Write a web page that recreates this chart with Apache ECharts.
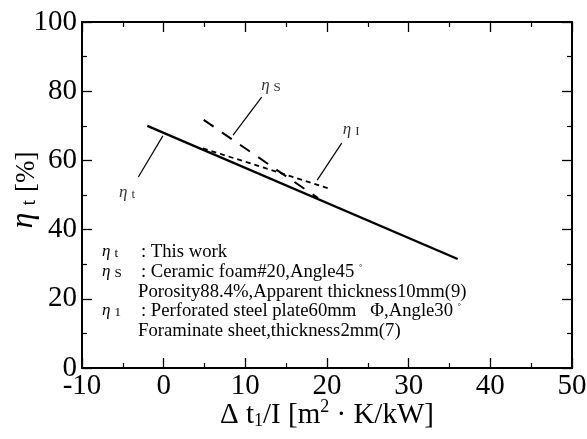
<!DOCTYPE html>
<html>
<head>
<meta charset="utf-8">
<script src="https://cdn.jsdelivr.net/npm/echarts@6/dist/echarts.min.js"></script>
<style>
  html, body { margin: 0; padding: 0; background: #fff; }
  #chart { width: 587px; height: 439px; }
</style>
</head>
<body>
<div id="chart"></div>
<script>
// line end points  [x, y]
const etaT = [[-2, 70], [36, 31.5]];
const etaS = [[4.9, 71.7], [18.9, 49.1]];
const etaI = [[4.8, 63.5], [20.1, 52.0]];

// leader lines from the label to its curve
const leaderT = [[-3.1, 55.2], [-0.1, 67.1]];
const leaderS = [[8.5, 67.3], [12.0, 78.3]];
const leaderI = [[18.8, 54.3], [21.8, 65.0]];

// label anchors and texts
const labelPts = [[-5.4, 50.6], [12.0, 81.6], [22.0, 68.8]];
const labelSubs = ['t', 'S', 'I'];

const xTicks = { min: -10, max: 50, interval: 10 };
const yTicks = { min: 0, max: 100, interval: 20 };

const legendRows = [
    { eta: 't', text: ': This work' },
    { eta: 'S', text: ': Ceramic foam#20,Angle45 ', deg: true },
    { eta: null, text: 'Porosity88.4%,Apparent thickness10mm(9)' },
    { eta: '1', text: ': Perforated steel plate60mm   Φ,Angle30 ', deg: true },
    { eta: null, text: 'Foraminate sheet,thickness2mm(7)' }
];

const serif = 'Liberation Serif';
const chart = echarts.init(document.getElementById('chart'));

const etaRich = {
    e: { fontFamily: serif, fontStyle: 'italic', fontSize: 17, color: '#000', lineHeight: 18, verticalAlign: 'bottom' },
    s: { fontFamily: serif, fontSize: 13, color: '#000', lineHeight: 14, verticalAlign: 'bottom', padding: [0, 0, 0, 4] },
    t: { fontFamily: serif, fontSize: 18.7, color: '#000', lineHeight: 18, verticalAlign: 'bottom' },
    d: { fontFamily: serif, fontSize: 8, color: '#999', lineHeight: 18, verticalAlign: 'top' }
};

function axisCommon(showLabel, margin) {
    return {
        axisLine: { onZero: false, lineStyle: { color: '#000', width: 2 } },
        axisTick: { inside: true, length: 10, lineStyle: { color: '#000', width: 1.3 } },
        minorTick: { show: true, splitNumber: 2, length: 5, lineStyle: { color: '#000', width: 1.2 } },
        splitLine: { show: false },
        axisLabel: {
            show: showLabel, margin: margin,
            fontFamily: serif, fontSize: 29, color: '#000'
        }
    };
}

const graphics = [];
const rowY = [253, 273, 293, 312, 332];
legendRows.forEach(function (r, i) {
    if (r.eta) {
        graphics.push({
            type: 'text', left: 102, top: rowY[i] - 10,
            style: { text: '{e|η}{s|' + r.eta + '}', rich: etaRich }
        });
        graphics.push({
            type: 'text', left: 141, top: rowY[i] - 10,
            style: { text: '{t|' + r.text + '}' + (r.deg ? '{d|°}' : ''), rich: etaRich }
        });
    } else {
        graphics.push({
            type: 'text', left: 138, top: rowY[i] - 10,
            style: { text: '{t|' + r.text + '}', rich: etaRich }
        });
    }
});

const option = {
    animation: false,
    backgroundColor: '#fff',
    grid: { left: 82, right: 15, top: 22, bottom: 71, outerBoundsMode: 'none' },
    xAxis: [
        Object.assign(axisCommon(true, 4), {
            type: 'value', min: xTicks.min, max: xTicks.max, interval: xTicks.interval,
            name: '{a|Δ t}{b|1}{a|/I [m}{c|2}{a| · K/kW]}',
            nameLocation: 'middle', nameGap: 30, nameMoveOverlap: false,
            nameTextStyle: {
                rich: {
                    a: { fontFamily: serif, fontSize: 29, color: '#000', lineHeight: 32, verticalAlign: 'bottom' },
                    b: { fontFamily: serif, fontSize: 18, color: '#000', lineHeight: 24, verticalAlign: 'bottom' },
                    c: { fontFamily: serif, fontSize: 18, color: '#000', lineHeight: 32, verticalAlign: 'top' }
                }
            }
        }),
        Object.assign(axisCommon(false, 4), {
            type: 'value', position: 'top', min: xTicks.min, max: xTicks.max, interval: xTicks.interval
        })
    ],
    yAxis: [
        Object.assign(axisCommon(true, 5), {
            type: 'value', min: yTicks.min, max: yTicks.max, interval: yTicks.interval,
            name: '{e|η}{s|t}{a|[%]}',
            nameLocation: 'middle', nameGap: 42, nameMoveOverlap: false,
            nameTextStyle: {
                rich: {
                    e: { fontFamily: serif, fontStyle: 'italic', fontSize: 32, color: '#000', lineHeight: 32, verticalAlign: 'bottom', padding: [0, 7, 0, 10] },
                    s: { fontFamily: serif, fontSize: 20, color: '#000', lineHeight: 28, verticalAlign: 'bottom', padding: [0, 8, 0, 0] },
                    a: { fontFamily: serif, fontSize: 27, color: '#000', lineHeight: 32, verticalAlign: 'bottom' }
                }
            }
        }),
        Object.assign(axisCommon(false, 5), {
            type: 'value', position: 'right', min: yTicks.min, max: yTicks.max, interval: yTicks.interval
        })
    ],
    series: [
        {
            type: 'line', data: etaT, symbol: 'none',
            lineStyle: { color: '#000', width: 2.4 }
        },
        {
            type: 'line', data: etaS, symbol: 'none',
            lineStyle: { color: '#000', width: 2, type: [12, 10] }
        },
        {
            type: 'line', data: etaI, symbol: 'none',
            lineStyle: { color: '#000', width: 1.8, type: [5, 4] }
        },
        { type: 'line', data: leaderT, symbol: 'none', lineStyle: { color: '#000', width: 1.2 } },
        { type: 'line', data: leaderS, symbol: 'none', lineStyle: { color: '#000', width: 1.2 } },
        { type: 'line', data: leaderI, symbol: 'none', lineStyle: { color: '#000', width: 1.2 } },
        {
            type: 'scatter', symbolSize: 1,
            itemStyle: { color: 'rgba(0,0,0,0)' },
            data: labelPts.map(function (p, i) { return { value: p, sub: labelSubs[i] }; }),
            label: {
                show: true, position: [0, 0], align: 'left', verticalAlign: 'middle',
                formatter: function (p) { return '{e|η}{s|' + p.data.sub + '}'; },
                rich: etaRich
            }
        }
    ],
    graphic: graphics
};

chart.setOption(option);
</script>
</body>
</html>
